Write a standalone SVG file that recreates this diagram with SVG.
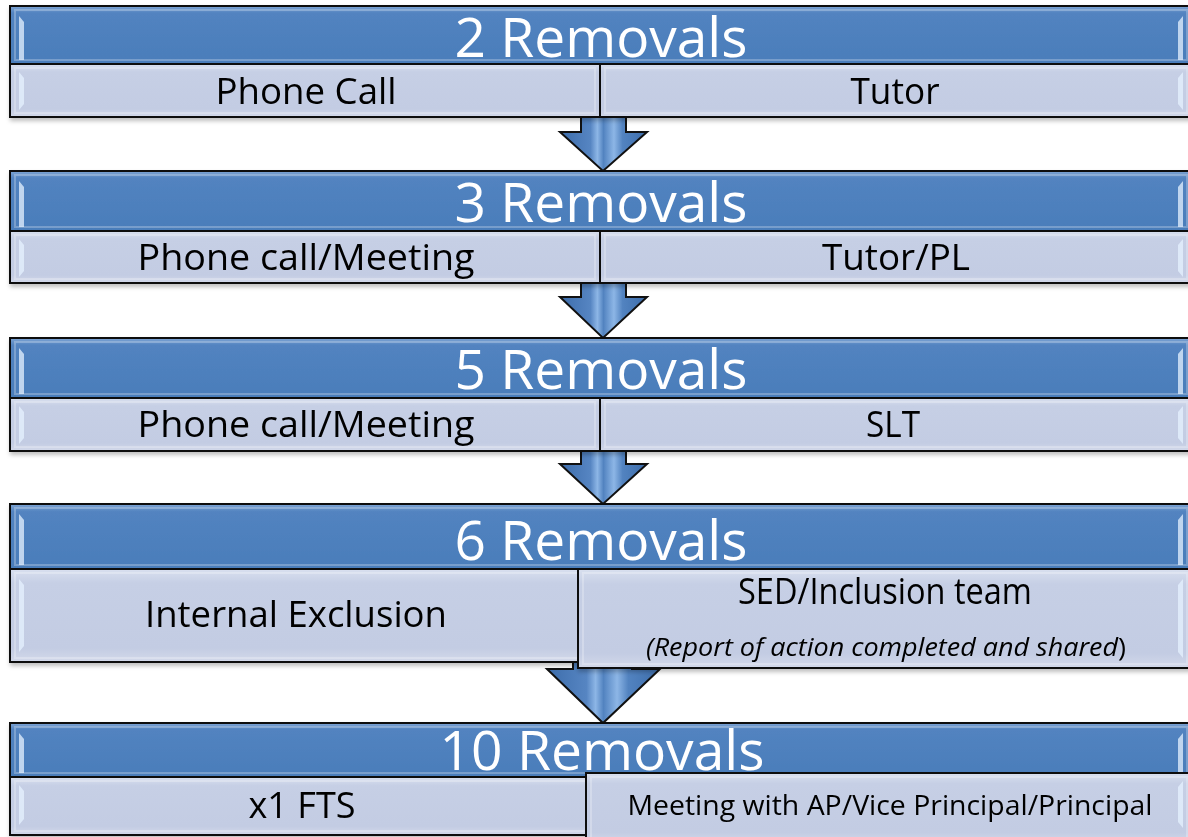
<svg xmlns="http://www.w3.org/2000/svg" width="1188" height="837" viewBox="0 0 1188 837">
<defs>
<linearGradient id="gHead" x1="0" y1="0" x2="0" y2="1">
<stop offset="0" stop-color="#7FA5D4"/>
<stop offset="0.12" stop-color="#5283C0"/>
<stop offset="1" stop-color="#4A7DBA"/>
</linearGradient>
<linearGradient id="gRow" x1="0" y1="0" x2="0" y2="1">
<stop offset="0" stop-color="#D9E0EF"/>
<stop offset="0.15" stop-color="#C6CFE5"/>
<stop offset="0.85" stop-color="#C3CCE3"/>
<stop offset="1" stop-color="#D3D9EA"/>
</linearGradient>
<linearGradient id="gArrow" x1="0" y1="0" x2="1" y2="0">
<stop offset="0" stop-color="#3D6DAB"/>
<stop offset="0.35" stop-color="#5685C2"/>
<stop offset="0.43" stop-color="#8DB6E6"/>
<stop offset="0.5" stop-color="#5283C0"/>
<stop offset="0.62" stop-color="#8DB6E6"/>
<stop offset="0.72" stop-color="#5283C0"/>
<stop offset="1" stop-color="#3D6DAB"/>
</linearGradient>
<filter id="sh" x="-5%" y="-10%" width="110%" height="130%">
<feDropShadow dx="1" dy="3" stdDeviation="2" flood-color="#000" flood-opacity="0.25"/>
</filter>
</defs>
<style>
.head{fill:url(#gHead);stroke:#111;stroke-width:2}
.row{fill:url(#gRow);stroke:#111;stroke-width:2}
.bev{fill:none;stroke:#FFFFFF;stroke-opacity:0.25;stroke-width:2}
.hl{fill:#E6F1FF;fill-opacity:0.75}
.ht{font-family:"Open Sans","Liberation Sans",sans-serif;font-size:55px;fill:#FFFFFF;text-anchor:middle}
.rt{font-family:"Open Sans","Liberation Sans",sans-serif;font-size:36px;fill:#000;text-anchor:middle}
.it{font-family:"Open Sans","Liberation Sans",sans-serif;font-size:25px;font-style:italic;fill:#000;text-anchor:middle}
.st{font-family:"Open Sans","Liberation Sans",sans-serif;font-size:27px;fill:#000;text-anchor:middle}
.arrow{fill:url(#gArrow);stroke:#111;stroke-width:2;stroke-linejoin:miter}
</style>

<g id="connectors">
<polygon class="arrow" points="581,117 626,117 626,132 647,132 603,171 560,132 581,132"/>
<polygon class="arrow" points="581,283 626,283 626,297 647,297 603,338 560,297 581,297"/>
<polygon class="arrow" points="581,451 626,451 626,464 647,464 603,504 560,464 581,464"/>
<polygon class="arrow" points="573,640 632,640 632,669 660,669 603,723 547,669 573,669"/>
</g>

<g id="block1" filter="url(#sh)">
<rect class="head" x="10" y="6" width="1182" height="58"/>
<rect class="bev" x="15" y="10" width="1172" height="50"/>
<polygon class="hl" points="19,16 24,22 24,60 19,60"/>
<polygon class="hl" points="1183,16 1178,22 1178,60 1183,60"/>
<rect class="row" x="10" y="64" width="590" height="53"/>
<rect class="row" x="600" y="64" width="592" height="53"/>
<rect class="bev" x="15" y="68" width="580" height="45"/>
<rect class="bev" x="605" y="68" width="582" height="45"/>
<polygon class="hl" points="19,72 24,78 24,104 19,110"/>
<polygon class="hl" points="1183,72 1178,78 1178,104 1183,110"/>
<text class="ht" x="601" y="57" textLength="293" lengthAdjust="spacingAndGlyphs">2 Removals</text>
<text class="rt" x="306" y="104" textLength="181" lengthAdjust="spacingAndGlyphs">Phone Call</text>
<text class="rt" x="895" y="104" textLength="89" lengthAdjust="spacingAndGlyphs">Tutor</text>
</g>

<g id="block2" filter="url(#sh)">
<rect class="head" x="10" y="171" width="1182" height="60"/>
<rect class="bev" x="15" y="175" width="1172" height="52"/>
<polygon class="hl" points="19,181 24,187 24,227 19,227"/>
<polygon class="hl" points="1183,181 1178,187 1178,227 1183,227"/>
<rect class="row" x="10" y="231" width="590" height="52"/>
<rect class="row" x="600" y="231" width="592" height="52"/>
<rect class="bev" x="15" y="235" width="580" height="44"/>
<rect class="bev" x="605" y="235" width="582" height="44"/>
<polygon class="hl" points="19,239 24,245 24,271 19,277"/>
<polygon class="hl" points="1183,239 1178,245 1178,271 1183,277"/>
<text class="ht" x="601" y="222" textLength="293" lengthAdjust="spacingAndGlyphs">3 Removals</text>
<text class="rt" x="306" y="270" textLength="337" lengthAdjust="spacingAndGlyphs">Phone call/Meeting</text>
<text class="rt" x="896" y="270" textLength="148" lengthAdjust="spacingAndGlyphs">Tutor/PL</text>
</g>

<g id="block3" filter="url(#sh)">
<rect class="head" x="10" y="338" width="1182" height="60"/>
<rect class="bev" x="15" y="342" width="1172" height="52"/>
<polygon class="hl" points="19,348 24,354 24,394 19,394"/>
<polygon class="hl" points="1183,348 1178,354 1178,394 1183,394"/>
<rect class="row" x="10" y="398" width="590" height="53"/>
<rect class="row" x="600" y="398" width="592" height="53"/>
<rect class="bev" x="15" y="402" width="580" height="45"/>
<rect class="bev" x="605" y="402" width="582" height="45"/>
<polygon class="hl" points="19,406 24,412 24,438 19,444"/>
<polygon class="hl" points="1183,406 1178,412 1178,438 1183,444"/>
<text class="ht" x="601" y="389" textLength="293" lengthAdjust="spacingAndGlyphs">5 Removals</text>
<text class="rt" x="306" y="437" textLength="337" lengthAdjust="spacingAndGlyphs">Phone call/Meeting</text>
<text class="rt" x="893" y="437" textLength="54" lengthAdjust="spacingAndGlyphs">SLT</text>
</g>

<g id="block4" filter="url(#sh)">
<rect class="head" x="10" y="504" width="1182" height="65"/>
<rect class="bev" x="15" y="508" width="1172" height="57"/>
<polygon class="hl" points="19,514 24,520 24,565 19,565"/>
<polygon class="hl" points="1183,514 1178,520 1178,565 1183,565"/>
<rect class="row" x="10" y="569" width="580" height="93"/>
<rect class="bev" x="15" y="573" width="570" height="85"/>
<polygon class="hl" points="19,579 24,585 24,646 19,652"/>
<rect class="row" x="578" y="569" width="614" height="99"/>
<rect class="bev" x="583" y="573" width="604" height="91"/>
<polygon class="hl" points="1183,579 1178,585 1178,652 1183,658"/>
<text class="ht" x="601" y="560" textLength="293" lengthAdjust="spacingAndGlyphs">6 Removals</text>
<text class="rt" x="296" y="627" textLength="302" lengthAdjust="spacingAndGlyphs">Internal Exclusion</text>
<text class="rt" x="885" y="604" textLength="294" lengthAdjust="spacingAndGlyphs">SED/Inclusion team</text>
<text class="it" x="886" y="656" textLength="480" lengthAdjust="spacingAndGlyphs">(Report of action completed and shared<tspan font-style="normal">)</tspan></text>
</g>

<g id="block5" filter="url(#sh)">
<rect class="head" x="10" y="723" width="1182" height="54"/>
<rect class="bev" x="15" y="727" width="1172" height="46"/>
<polygon class="hl" points="19,733 24,739 24,773 19,773"/>
<polygon class="hl" points="1183,733 1178,739 1178,773 1183,773"/>
<rect class="row" x="10" y="777" width="590" height="58"/>
<rect class="bev" x="15" y="781" width="580" height="50"/>
<polygon class="hl" points="19,785 24,791 24,819 19,825"/>
<rect class="row" x="586" y="773" width="606" height="70"/>
<rect class="bev" x="591" y="777" width="596" height="62"/>
<polygon class="hl" points="1183,781 1178,787 1178,822 1183,828"/>
<text class="ht" x="602" y="770" textLength="325" lengthAdjust="spacingAndGlyphs">10 Removals</text>
<text class="rt" x="302" y="818" textLength="107" lengthAdjust="spacingAndGlyphs">x1 FTS</text>
<text class="st" x="890" y="815" textLength="525" lengthAdjust="spacingAndGlyphs">Meeting with AP/Vice Principal/Principal</text>
</g>
</svg>
